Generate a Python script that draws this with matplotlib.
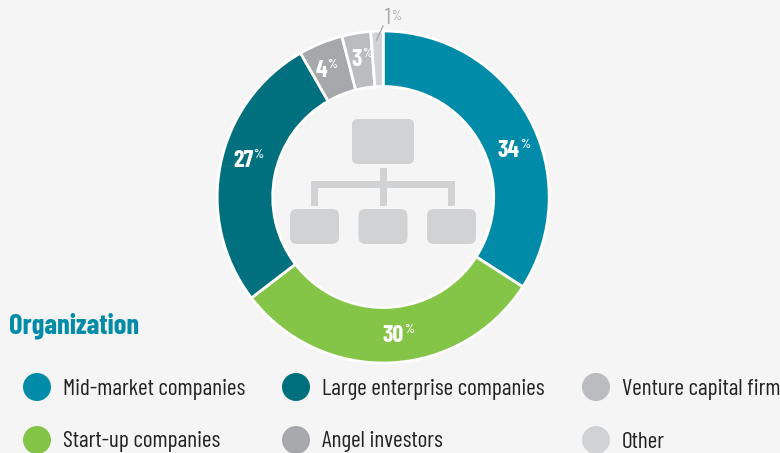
#!/usr/bin/env python3
import matplotlib
matplotlib.use("Agg")
import matplotlib.pyplot as plt
from matplotlib.patches import Circle, FancyBboxPatch, Rectangle

W, H = 780, 453
FONTS = ['Barlow Condensed', 'Roboto Condensed', 'Roboto', 'Liberation Sans']
plt.rcParams['font.family'] = FONTS

categories = ['Mid-market companies', 'Start-up companies', 'Large enterprise companies',
              'Angel investors', 'Venture capital firm', 'Other']
# shares, the printed labels are rounded
shares = [34.1, 30.5, 27.1, 4.3, 2.8, 1.2]
printed = ['34', '30', '27', '4', '3', '1']
colors = ['#008ba8', '#84c547', '#00707f', '#a7a8ab', '#bbbcc0', '#d1d2d4']

BG = '#f5f5f5'
GREY = '#d1d2d4'


def px(size):
    return size * 0.72


fig = plt.figure(figsize=(W / 100, H / 100), dpi=100, facecolor=BG)

# donut in its own axes
cx, cy, R = 383.2, 197, 166
pie_ax = fig.add_axes([(cx - R) / W, 1 - (cy + R) / H, 2 * R / W, 2 * R / H])
pie_ax.pie(shares, colors=colors, startangle=90, counterclock=False, radius=1,
           wedgeprops=dict(width=55.5 / R, edgecolor='white', linewidth=2))
pie_ax.set_xlim(-1, 1)
pie_ax.set_ylim(-1, 1)

# overlay in pixel coordinates, y down
ax = fig.add_axes([0, 0, 1, 1], facecolor='none')
ax.set_xlim(0, W)
ax.set_ylim(H, 0)
ax.axis('off')

# percent labels, x is where the number stops and the % starts
label_pos = [(520, 151), (404, 336), (253, 161), (327, 71), (362, 60)]
for (x, y), txt in zip(label_pos, printed[:5]):
    ax.text(x, y, txt, color='white', fontsize=px(24), fontweight='bold',
            ha='right', va='center')
    ax.text(x + 0.5, y - 6, '%', color='white', fontsize=px(13), fontweight='medium',
            ha='left', va='center')

ax.text(390.5, 19, printed[5], color='#a7a8ab', fontsize=px(23), ha='right', va='center')
ax.text(391, 16, '%', color='#a7a8ab', fontsize=px(13), ha='left', va='center')
ax.plot([383, 376.5], [26, 40], color='#a7a8ab', lw=0.9)


def box(x0, y0, x1, y1, r):
    ax.add_patch(FancyBboxPatch((x0 + r, y0 + r), x1 - x0 - 2 * r, y1 - y0 - 2 * r,
                                boxstyle=f'round,pad={r},rounding_size={r}',
                                fc=GREY, ec='none'))


# org chart icon
box(352, 119, 414, 164, 6)
for x0 in (290, 358.5, 427):
    box(x0, 209, x0 + 49, 244, 7)
for r in [(379.5, 168, 7, 38), (310.5, 181, 144.5, 7), (310.5, 181, 7, 25), (448, 181, 7, 25)]:
    ax.add_patch(Rectangle((r[0], r[1]), r[2], r[3], fc=GREY, ec='none'))

# title and legend
ax.text(8.5, 326, 'Organization', color='#008ba8', fontsize=px(28.5), fontweight='bold',
        ha='left', va='center')

legend_pos = [(37, 387), (37, 440), (296, 387), (296, 440), (596, 387), (596, 440)]
for (x, y), name, c in zip(legend_pos, categories, colors):
    ax.add_patch(Circle((x, y), 14, fc=c, ec='none'))
    ax.text(x + 26, y + 2, name, color='#222222', fontsize=px(23.4), fontweight='regular',
            ha='left', va='center')

fig.savefig('out.png', dpi=100, facecolor=BG)
